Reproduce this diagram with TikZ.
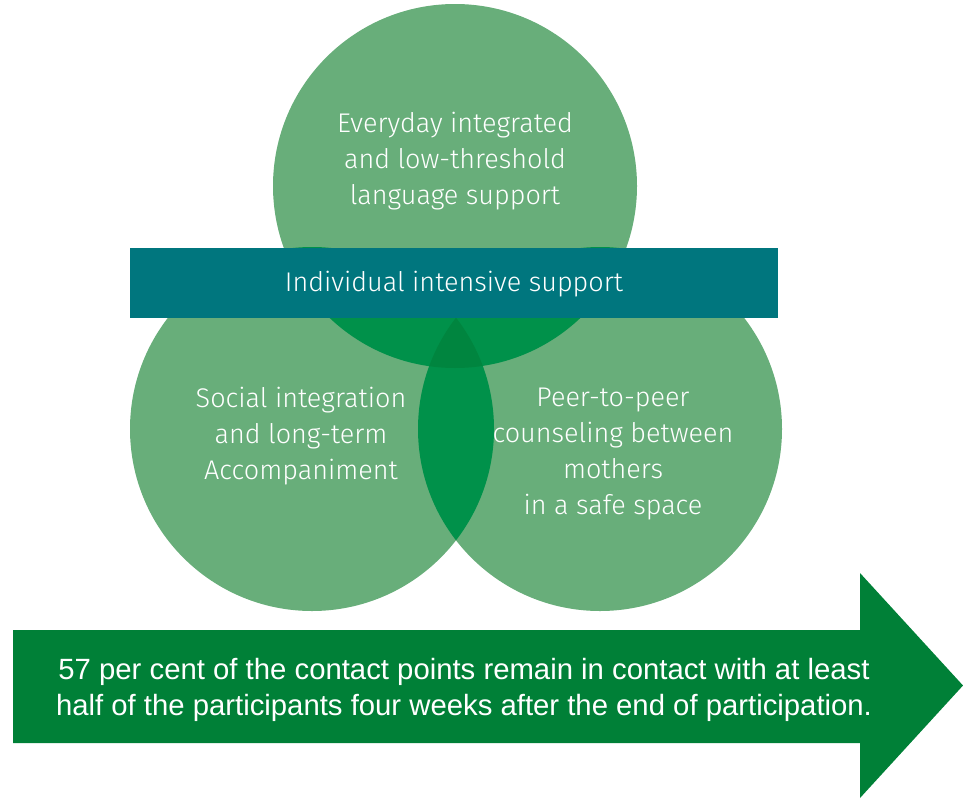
\documentclass[tikz,border=0pt]{standalone}
\usepackage{fontspec}
\setmainfont{Fira Sans Light}
\newfontfamily\arialfont{Liberation Sans}

\definecolor{ringgreen}{HTML}{68AE7A}
\definecolor{pairgreen}{HTML}{00914A}
\definecolor{coregreen}{HTML}{00853F}
\definecolor{bandteal}{HTML}{00767E}
\definecolor{arrowgreen}{HTML}{008037}

\tikzset{
  circletext/.style={text=white, align=center, font=\fontsize{27}{36}\selectfont},
  arrowtext/.style={text=white, align=center, font=\arialfont\fontsize{29.3}{35.5}\selectfont}
}

\begin{document}
\begin{tikzpicture}[x=1pt, y=-1pt]
		\useasboundingbox (0,0) rectangle (963,798);

		% circle centres
		\coordinate (top) at (455,186);
		\coordinate (left) at (312,429);
		\coordinate (right) at (600,429);
		\def\rad{182}

		% the three circles
		\fill[ringgreen] (top) circle (\rad);
		\fill[ringgreen] (left) circle (\rad);
		\fill[ringgreen] (right) circle (\rad);

		% pairwise overlaps
		\begin{scope}
			\clip (top) circle (\rad);
			\fill[pairgreen] (left) circle (\rad);
			\fill[pairgreen] (right) circle (\rad);
		\end{scope}
		\begin{scope}
			\clip (left) circle (\rad);
			\fill[pairgreen] (right) circle (\rad);
		\end{scope}

		% middle part
		\begin{scope}
			\clip (top) circle (\rad);
			\clip (left) circle (\rad);
			\fill[coregreen] (right) circle (\rad);
		\end{scope}

		% band across
		\fill[bandteal] (130,248) rectangle (778,318);
		\node[circletext] (band) at (454,284) {Individual intensive support};

		% circle labels
		\node[circletext] (language) at (455,161) {Everyday integrated\\and low-threshold\\language support};
		\node[circletext] (social) at (301,436) {Social integration\\and long-term\\Accompaniment};
		\node[circletext] (peer) at (613,454) {Peer-to-peer\\counseling between\\mothers\\in a safe space};

		% result arrow
		\fill[arrowgreen] (13,630) -- (860,630) -- (860,573) -- (963,685.5)
			-- (860,798) -- (860,743) -- (13,743) -- cycle;
		\node[arrowtext] (result) at (464,690) {57 per cent of the contact points remain in contact with at least\\half of the participants four weeks after the end of participation.};

\end{tikzpicture}
\end{document}
